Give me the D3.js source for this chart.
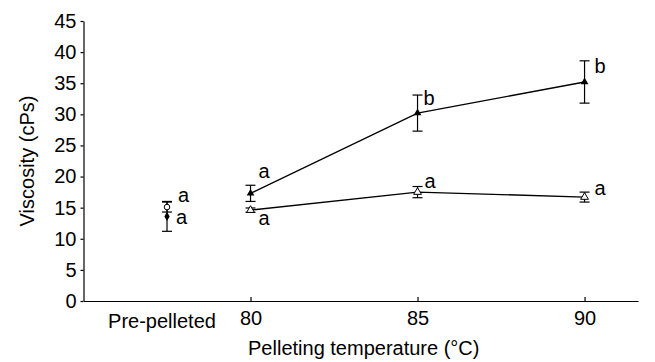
<!DOCTYPE html>
<html>
<head>
<meta charset="utf-8">
<script src="https://cdn.jsdelivr.net/npm/d3@7"></script>
<style>
  body { margin: 0; background: #fff; }
  text { font-family: Arial, "Liberation Sans", sans-serif; fill: #000; }
</style>
</head>
<body>
<div id="chart"></div>
<script>
// data
var temps = [80, 85, 90];
var prePos = 77.5; // where "Pre-pelleted" sits on the x scale
var upperMean = [17.3, 30.2, 35.2];
var upperErr = [1.3, 2.9, 3.4];
var upperLetter = ['a', 'b', 'b'];
var lowerMean = [14.6, 17.5, 16.7];
var lowerErr = [0.35, 0.9, 0.8];
var lowerLetter = ['a', 'a', 'a'];
var preMean = [15.1, 13.6];   // open circle, filled diamond
var preErr = [0.8, 2.4];
var preLetter = ['a', 'a'];
var yTicks = [0, 5, 10, 15, 20, 25, 30, 35, 40, 45];
var xTicks = [80, 85, 90];

// label nudges (px) so letters sit like in the original
var upperNudge = [[8, -15], [6, -8], [10, -9]];
var lowerNudge = [[8, 15], [7, -4], [10, -2]];
var preNudge = [[11, -5], [9, 8]];

var W = 655, H = 362;
var fs = '20px';
var svg = d3.select('#chart').append('svg')
  .attr('width', W).attr('height', H);

var x = d3.scaleLinear().domain([75, 91.6]).range([83.5, 638]);
var y = d3.scaleLinear().domain([0, 45]).range([301, 21]);

// axes
var yAxis = svg.append('g')
  .attr('transform', 'translate(' + x(75) + ',0)')
  .call(d3.axisLeft(y).tickValues(yTicks).tickSize(3).tickSizeOuter(0).tickPadding(4));
var xAxis = svg.append('g')
  .attr('transform', 'translate(0,' + y(0) + ')')
  .call(d3.axisBottom(x).tickValues(xTicks).tickSize(-4).tickSizeOuter(0).tickPadding(10));

[yAxis, xAxis].forEach(function(g) {
  g.select('.domain').attr('stroke', '#000').attr('stroke-width', 1.2);
  g.selectAll('.tick line').attr('stroke', '#000').attr('stroke-width', 1.2);
  g.selectAll('.tick text').style('font-size', fs).attr('fill', '#000')
    .style('font-family', 'Arial, "Liberation Sans", sans-serif');
});

// pre-pelleted tick label (no tick mark)
svg.append('text')
  .attr('x', x(prePos) - 5)
  .attr('y', y(0) + 27)
  .attr('text-anchor', 'middle')
  .style('font-size', fs)
  .text('Pre-pelleted');

// axis titles
svg.append('text')
  .attr('x', (x(75) + x(91.6)) / 2 + 3)
  .attr('y', 355)
  .attr('text-anchor', 'middle')
  .style('font-size', fs)
  .text('Pelleting temperature (\u00B0C)');

svg.append('text')
  .attr('transform', 'rotate(-90)')
  .attr('x', -(y(0) + y(45)) / 2)
  .attr('y', 34)
  .attr('text-anchor', 'middle')
  .style('font-size', fs)
  .text('Viscosity (cPs)');

function rows(xs, means, errs, letters, nudges) {
  return xs.map(function(t, i) {
    return { x: t, m: means[i], e: errs[i], l: letters[i], n: nudges[i] };
  });
}
var upper = rows(temps, upperMean, upperErr, upperLetter, upperNudge);
var lower = rows(temps, lowerMean, lowerErr, lowerLetter, lowerNudge);
var pre = rows([prePos, prePos], preMean, preErr, preLetter, preNudge);

var line = d3.line().x(d => x(d.x)).y(d => y(d.m));

[upper, lower].forEach(function(s) {
  svg.append('path')
    .datum(s)
    .attr('d', line)
    .attr('fill', 'none')
    .attr('stroke', '#000')
    .attr('stroke-width', 1.4);
});

function errorBars(data) {
  var g = svg.append('g').attr('stroke', '#000').attr('stroke-width', 1.2);
  data.forEach(function(d) {
    g.append('line').attr('x1', x(d.x)).attr('x2', x(d.x))
      .attr('y1', y(d.m - d.e)).attr('y2', y(d.m + d.e));
    [d.m - d.e, d.m + d.e].forEach(function(v) {
      g.append('line').attr('x1', x(d.x) - 5).attr('x2', x(d.x) + 5)
        .attr('y1', y(v)).attr('y2', y(v));
    });
  });
}
errorBars(pre);
errorBars(upper);
errorBars(lower);

// markers
var tri = d3.symbol().type(d3.symbolTriangle).size(26);
svg.selectAll('.up').data(upper).enter().append('path')
  .attr('d', tri)
  .attr('transform', d => 'translate(' + x(d.x) + ',' + y(d.m) + ')')
  .attr('fill', '#000');
svg.selectAll('.low').data(lower).enter().append('path')
  .attr('d', tri)
  .attr('transform', d => 'translate(' + x(d.x) + ',' + y(d.m) + ')')
  .attr('fill', '#fff').attr('stroke', '#000').attr('stroke-width', 1);

svg.append('circle')
  .attr('cx', x(pre[0].x)).attr('cy', y(pre[0].m)).attr('r', 2.8)
  .attr('fill', '#fff').attr('stroke', '#000').attr('stroke-width', 1);
svg.append('path')
  .attr('d', d3.symbol().type(d3.symbolDiamond).size(24))
  .attr('transform', 'translate(' + x(pre[1].x) + ',' + y(pre[1].m) + ')')
  .attr('fill', '#000');

// significance letters
svg.selectAll('.lab').data(upper.concat(lower, pre)).enter().append('text')
  .attr('x', d => x(d.x) + d.n[0])
  .attr('y', d => y(d.m) + d.n[1])
  .style('font-size', fs)
  .text(d => d.l);
</script>
</body>
</html>
